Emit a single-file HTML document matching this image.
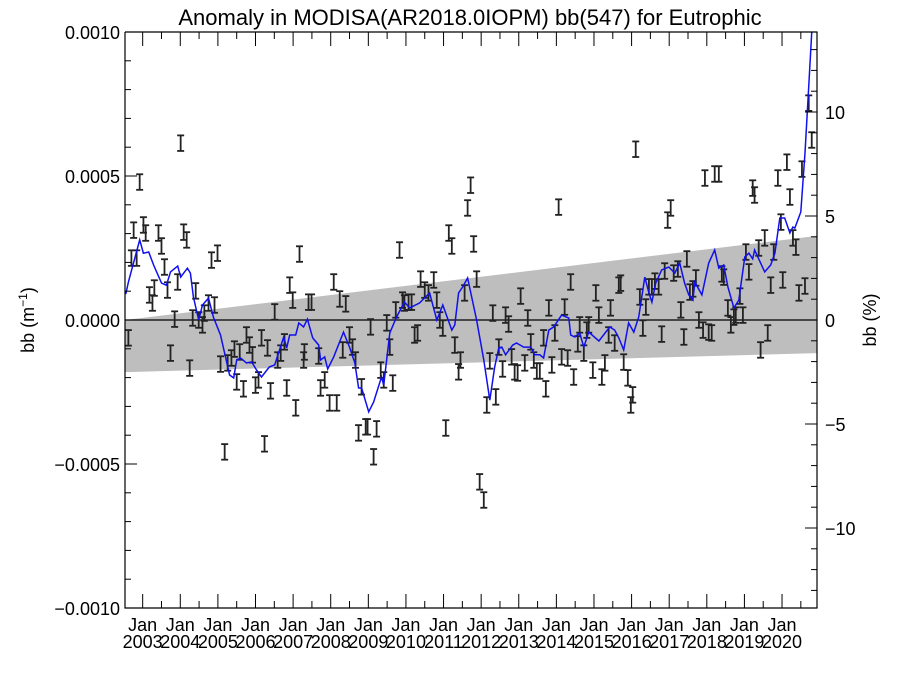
<!DOCTYPE html>
<html><head><meta charset="utf-8"><style>
html,body{margin:0;padding:0;background:#fff;}
svg{display:block;font-family:"Liberation Sans",sans-serif;}
</style></head><body>
<svg id="chart" width="900" height="675" viewBox="0 0 900 675" xmlns="http://www.w3.org/2000/svg">
<defs><clipPath id="plotclip"><rect x="125" y="32" width="692" height="576"/></clipPath></defs>
<text x="470" y="25" font-size="22" text-anchor="middle">Anomaly in MODISA(AR2018.0IOPM) bb(547) for Eutrophic</text>
<text transform="translate(34,320) rotate(-90)" font-size="18" text-anchor="middle">bb (m<tspan font-size="12" dy="-7">−1</tspan><tspan dy="7">)</tspan></text>
<text transform="translate(876,320) rotate(-90)" font-size="18" text-anchor="middle">bb (%)</text>
<g id="band"></g>
<g id="marks" clip-path="url(#plotclip)"></g>
<g id="axes"></g>
</svg>
<script>
// data (values in units of 1e-4 m^-1)
const obsT = [2002.62,2002.70,2002.84,2002.76,2002.92,2003.02,2003.08,2003.18,2003.26,2003.31,2003.42,2003.50,2003.58,2003.66,2003.74,2003.85,2003.93,2004.01,2004.09,2004.17,2004.25,2004.33,2004.41,2004.49,2004.59,2004.64,2004.75,2004.83,2004.91,2004.99,2005.07,2005.18,2005.26,2005.36,2005.44,2005.50,2005.58,2005.68,2005.76,2005.84,2005.92,2006.00,2006.08,2006.16,2006.24,2006.32,2006.40,2006.51,2006.59,2006.67,2006.77,2006.83,2006.91,2006.99,2007.07,2007.17,2007.28,2007.30,2007.41,2007.49,2007.68,2007.73,2007.84,2007.97,2008.08,2008.16,2008.24,2008.32,2008.40,2008.50,2008.58,2008.66,2008.74,2008.82,2008.93,2008.98,2009.06,2009.14,2009.22,2009.33,2009.41,2009.49,2009.57,2009.65,2009.73,2009.83,2009.91,2009.96,2010.07,2010.15,2010.23,2010.31,2010.39,2010.50,2010.60,2010.74,2010.82,2010.90,2010.98,2011.06,2011.14,2011.22,2011.30,2011.40,2011.45,2011.56,2011.64,2011.72,2011.80,2011.88,2011.96,2012.07,2012.15,2012.23,2012.39,2012.31,2012.47,2012.57,2012.65,2012.73,2012.81,2012.89,2012.97,2013.05,2013.16,2013.24,2013.32,2013.40,2013.48,2013.56,2013.66,2013.72,2013.80,2013.88,2013.96,2014.06,2014.14,2014.22,2014.30,2014.38,2014.46,2014.57,2014.62,2014.73,2014.81,2014.86,2014.97,2015.05,2015.13,2015.21,2015.29,2015.39,2015.44,2015.55,2015.66,2015.71,2015.79,2015.90,2015.98,2016.03,2016.11,2016.22,2016.30,2016.38,2016.46,2016.54,2016.62,2016.72,2016.80,2016.88,2016.96,2017.04,2017.12,2017.23,2017.31,2017.39,2017.47,2017.55,2017.63,2017.71,2017.79,2017.90,2017.95,2018.05,2018.13,2018.21,2018.32,2018.40,2018.45,2018.56,2018.64,2018.72,2018.77,2018.88,2018.96,2019.04,2019.12,2019.22,2019.27,2019.38,2019.43,2019.54,2019.62,2019.70,2019.78,2019.89,2019.97,2020.02,2020.13,2020.21,2020.29,2020.37,2020.45,2020.53,2020.61,2020.71,2020.79];
const obsV = [-0.62,2.15,2.15,3.12,4.79,3.30,3.02,0.87,0.59,1.11,3.02,2.57,1.84,1.04,-1.15,0.03,1.32,6.14,3.05,2.78,-1.67,0.07,1.01,0.00,-0.17,0.24,0.59,2.08,0.52,2.32,-1.53,-4.58,-1.49,-1.32,-1.01,-2.15,-1.11,-2.39,-0.52,-0.87,-1.21,-2.26,-2.08,-0.62,-4.30,-0.97,-2.46,0.28,-1.39,-1.15,-0.76,-2.36,1.21,0.69,-3.05,2.29,-1.39,-1.11,0.62,0.62,-1.25,-2.36,-2.08,-2.88,1.32,-2.88,0.73,-1.04,0.56,-0.52,-0.94,-1.39,-3.92,-2.32,-3.71,-3.71,-0.24,-4.75,-3.78,-1.74,-2.08,-0.10,-0.94,-2.19,0.35,2.43,0.69,0.59,0.62,0.62,-0.52,-0.45,1.42,1.04,0.94,1.39,0.69,0.00,-0.28,-3.75,3.02,2.57,-0.87,-1.80,-1.39,0.94,3.89,4.68,2.64,1.42,-5.62,-6.25,-2.95,-1.42,-2.67,0.24,-0.94,-1.70,0.17,-0.14,-1.28,-1.80,-1.84,0.83,-1.49,0.07,-0.76,-1.39,-1.77,-1.77,-0.62,-2.39,0.42,-1.56,-0.45,3.92,-1.28,0.45,-1.32,1.32,-1.98,-0.83,-0.17,-1.15,-0.35,-0.17,-1.74,0.94,0.17,-1.98,-1.49,-0.52,0.42,-0.80,1.21,1.28,-1.46,-2.01,-2.95,-2.60,5.93,0.80,-0.28,0.45,1.15,1.15,1.35,1.15,-0.49,1.70,3.47,3.89,1.63,1.77,0.35,-0.59,2.12,0.97,1.08,1.46,0.00,-0.35,4.93,-0.42,-0.45,5.07,5.07,1.60,1.49,0.42,-0.17,0.10,0.17,0.83,0.17,2.36,1.67,4.58,4.34,2.50,-1.04,2.85,-0.45,1.21,2.36,4.93,3.40,1.39,5.48,4.27,2.85,2.53,0.94,5.24,1.18,7.53,6.25];
const obsErr = 0.27;
const meanT = [2002.55,2002.62,2002.92,2003.02,2003.16,2003.29,2003.50,2003.63,2003.74,2003.93,2004.01,2004.19,2004.27,2004.35,2004.49,2004.59,2004.75,2004.88,2005.07,2005.31,2005.42,2005.50,2005.60,2005.76,2005.90,2006.03,2006.16,2006.37,2006.51,2006.75,2006.83,2006.91,2007.07,2007.15,2007.28,2007.38,2007.52,2007.68,2007.73,2007.84,2007.92,2008.08,2008.34,2008.50,2008.64,2008.74,2008.82,2009.01,2009.14,2009.35,2009.41,2009.57,2009.75,2009.96,2010.10,2010.36,2010.63,2010.82,2010.98,2011.22,2011.30,2011.40,2011.51,2011.64,2011.88,2012.07,2012.23,2012.36,2012.47,2012.55,2012.65,2012.84,2012.94,2013.13,2013.32,2013.42,2013.56,2013.66,2013.80,2013.93,2014.14,2014.33,2014.38,2014.49,2014.62,2014.73,2014.86,2015.13,2015.42,2015.55,2015.66,2015.79,2015.92,2016.06,2016.19,2016.35,2016.46,2016.54,2016.64,2016.80,2016.99,2017.15,2017.28,2017.41,2017.52,2017.63,2017.68,2017.87,2018.05,2018.21,2018.32,2018.45,2018.56,2018.72,2018.85,2019.01,2019.12,2019.22,2019.27,2019.54,2019.70,2019.81,2019.94,2020.07,2020.21,2020.29,2020.34,2020.50,2020.61,2020.71,2020.79,2020.90];
const meanV = [0.9,1.32,2.78,2.32,2.36,1.91,1.28,1.21,1.67,1.87,1.49,1.80,1.63,0.80,0.00,0.52,0.76,0.10,-0.52,-1.91,-2.01,-1.39,-1.32,-1.49,-1.46,-1.74,-1.98,-1.63,-1.56,-0.59,-0.97,-0.52,-0.52,-0.10,-0.24,0.03,-0.62,-0.87,-1.39,-1.28,-1.70,-1.28,-0.42,-0.94,-1.49,-2.36,-2.36,-3.19,-2.85,-1.98,-2.26,-0.45,0.10,0.62,0.42,0.59,0.94,0.00,0.52,-0.35,-0.17,0.94,1.15,1.46,0.00,-1.39,-2.78,-1.63,-0.97,-0.94,-1.21,-0.87,-0.80,-0.94,-0.94,-1.21,-1.21,-1.32,-0.35,-0.24,0.17,0.07,-0.52,-0.59,-0.45,-0.94,-0.42,-0.73,-0.24,-0.35,-0.62,-1.04,-0.10,-0.42,0.10,1.49,0.94,0.62,1.28,1.74,1.84,1.63,1.98,1.28,0.87,0.69,1.32,0.87,1.98,2.43,1.80,1.91,1.15,0.42,0.69,2.19,2.32,2.12,2.43,1.67,1.91,2.32,3.54,3.54,3.02,3.23,3.19,3.75,5.80,8.09,9.97,12.5];
const bandTop = [0.0, 2.92];
const bandBottom = [-1.81, -1.15];
const yTickLabels = ["−0.0010","−0.0005","0.0000","0.0005","0.0010"];
const yTickValues = [-10,-5,0,5,10];
const pctTickValues = [-10,-5,0,5,10];
const years = [2003,2004,2005,2006,2007,2008,2009,2010,2011,2012,2013,2014,2015,2016,2017,2018,2019,2020];

const X0=125,X1=817,Y0=32,Y1=608;
const tMin=2002.53,tMax=2020.93;
const sx=t=>X0+(t-tMin)/(tMax-tMin)*(X1-X0);
const sy=v=>320-v*28.8;          // v in 1e-4
const sp=p=>320-p*20.8;          // percent axis
const NS="http://www.w3.org/2000/svg";
function mk(tag,attrs,parent){const e=document.createElementNS(NS,tag);for(const k in attrs)e.setAttribute(k,attrs[k]);parent.appendChild(e);return e;}

const band=document.getElementById('band');
const poly=mk('polygon',{points:`${X0},${sy(bandTop[0])} ${X1},${sy(bandTop[1])} ${X1},${sy(bandBottom[1])} ${X0},${sy(bandBottom[0])}`,fill:'#bebebe'},band);



const marks=document.getElementById('marks');
const zl=mk('line',{x1:X0,x2:X1,y1:sy(0),y2:sy(0),stroke:'#000','stroke-width':1.3},marks);



for(let i=0;i<obsT.length;i++){
  const x=sx(obsT[i]),yt=sy(obsV[i]+obsErr),yb=sy(obsV[i]-obsErr);
  const g=mk('g',{stroke:'#222','stroke-width':1.8,fill:'none'},marks);
  
  
  mk('line',{x1:x,x2:x,y1:yt,y2:yb},g);
  mk('line',{x1:x-3.5,x2:x+3.5,y1:yt,y2:yt},g);
  mk('line',{x1:x-3.5,x2:x+3.5,y1:yb,y2:yb},g);
}
const pts=meanT.map((t,i)=>sx(t).toFixed(1)+','+sy(meanV[i]).toFixed(1)).join(' ');
const ml=mk('polyline',{points:pts,fill:'none',stroke:'#1010ee','stroke-width':1.5},marks);



const axes=document.getElementById('axes');
const frame=mk('path',{d:`M${X0},${Y0} V${Y1} H${X1} V${Y0} H${X0}`,fill:'none',stroke:'#000','stroke-width':1.2},axes);


// left ticks
for(let v=-10;v<=10;v++){
  const y=sy(v),len=(v%5===0)?12:6;
  mk('line',{x1:X0,x2:X0+len,y1:y,y2:y,stroke:'#000','stroke-width':1},axes);
}
yTickValues.forEach((v,i)=>{
  const t=mk('text',{x:X0-5,y:sy(v)+7,'font-size':18,'text-anchor':'end'},axes);
  
  
  t.textContent=yTickLabels[i];
});
// right ticks
for(let p=-13;p<=13;p++){
  const y=sp(p),len=(p%5===0)?12:6;
  mk('line',{x1:X1,x2:X1-len,y1:y,y2:y,stroke:'#000','stroke-width':1},axes);
}
pctTickValues.forEach(p=>{
  const t=mk('text',{x:X1+8,y:sp(p)+7,'font-size':18},axes);
  
  
  t.textContent=(p<0?'−':'')+Math.abs(p);
});
// x ticks
for(let t2=2003;t2<=2021;t2+=0.5){
  const x=sx(t2);if(x>X1)break;
  const len=(t2%1===0)?14:7;
  mk('line',{x1:x,x2:x,y1:Y1,y2:Y1-len,stroke:'#000','stroke-width':1},axes);
  mk('line',{x1:x,x2:x,y1:Y0,y2:Y0+len,stroke:'#000','stroke-width':1},axes);
}
years.forEach(yr=>{
  const x=sx(yr);
  const a=mk('text',{x:x,y:631,'font-size':18,'text-anchor':'middle'},axes);
  
  
  a.textContent='Jan';
  const b=mk('text',{x:x,y:648,'font-size':18,'text-anchor':'middle'},axes);
  
  
  b.textContent=yr;
});
</script>
</body></html>
